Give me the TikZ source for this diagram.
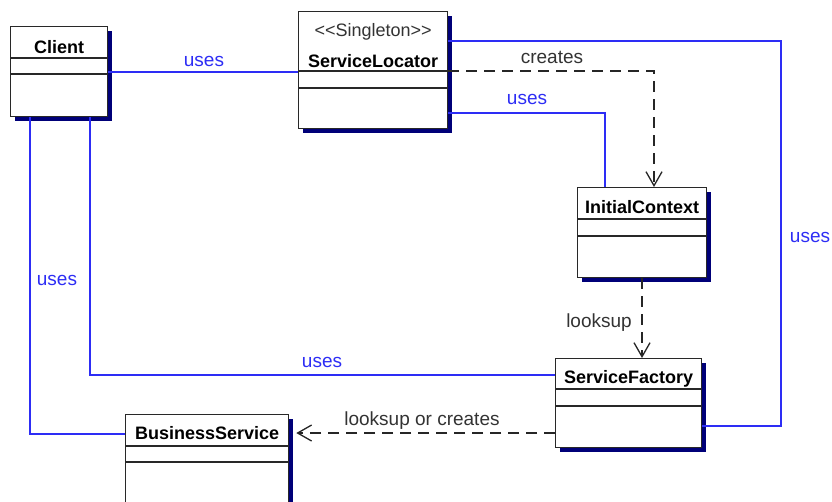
\documentclass[tikz,border=0pt]{standalone}
\usepackage{fontspec}
\setmainfont{Liberation Sans}
\usetikzlibrary{arrows.meta,shadows}
\definecolor{useblue}{RGB}{45,45,245}
\definecolor{shadownavy}{RGB}{0,0,120}
\definecolor{boxline}{RGB}{40,40,40}
\begin{document}
\begin{tikzpicture}[x=1pt,y=-1pt,
  cls/.style={draw=boxline, line width=1.3pt, fill=white, anchor=north west, inner sep=0pt,
    drop shadow={shadow xshift=4pt, shadow yshift=-4pt, fill=shadownavy, opacity=1}},
  divider/.style={draw=boxline, line width=1.3pt},
  cname/.style={font=\fontsize{18}{20}\selectfont\bfseries, anchor=base, inner sep=0pt},
  stereo/.style={font=\fontsize{18}{20}\selectfont, text=black!80, anchor=base, inner sep=0pt},
  uses/.style={draw=useblue, line width=1.3pt},
  usestext/.style={font=\fontsize{19}{22}\selectfont, text=useblue, anchor=base, inner sep=0pt},
  dep/.style={draw=black!85, line width=1.3pt, dash pattern=on 11pt off 7pt,
    -{Straight Barb[length=14pt,width=16pt,line width=1.3pt]}},
  deptext/.style={font=\fontsize{19}{22}\selectfont, text=black!80, anchor=base, inner sep=0pt}]
\useasboundingbox (0,0) rectangle (832,501);
\fill[white] (0,0) rectangle (832,501);

% class boxes
\node[cls, minimum width=97pt, minimum height=90pt] (client) at (10,26) {};
\node[cls, minimum width=149pt, minimum height=117pt] (sl) at (298,11) {};
\node[cls, minimum width=129pt, minimum height=90pt] (ic) at (577,187) {};
\node[cls, minimum width=146pt, minimum height=89pt] (sf) at (555,358) {};
\node[cls, minimum width=163pt, minimum height=110pt] (bs) at (125,414) {};

% dividers
\draw[divider] (client.west |- 0,58) -- (client.east |- 0,58);
\draw[divider] (client.west |- 0,74) -- (client.east |- 0,74);
\draw[divider] (sl.west |- 0,71) -- (sl.east |- 0,71);
\draw[divider] (sl.west |- 0,88) -- (sl.east |- 0,88);
\draw[divider] (ic.west |- 0,219) -- (ic.east |- 0,219);
\draw[divider] (ic.west |- 0,236) -- (ic.east |- 0,236);
\draw[divider] (sf.west |- 0,389) -- (sf.east |- 0,389);
\draw[divider] (sf.west |- 0,406) -- (sf.east |- 0,406);
\draw[divider] (bs.west |- 0,446) -- (bs.east |- 0,446);
\draw[divider] (bs.west |- 0,462) -- (bs.east |- 0,462);

% class names
\node[cname] (clientname) at (client.north |- 0,53) {Client};
\node[stereo] (slstereo) at (sl.north |- 0,36) {<\kern0pt<Singleton>\kern0pt>};
\node[cname] (slname) at (sl.north |- 0,67) {ServiceLocator};
\node[cname] (icname) at (ic.north |- 0,213) {InitialContext};
\node[cname] (sfname) at (sf.north |- 0,383) {ServiceFactory};
\node[cname] (bsname) at (bs.north |- 0,439) {BusinessService};

% connectors
\coordinate (rightc) at (781,200);
\draw[uses] (client.east |- 0,72) -- (sl.west |- 0,72);
\draw[uses] (sl.east |- 0,41) -| (rightc) |- (sf.east |- 0,426);
\draw[uses] (sl.east |- 0,113) -| (ic.north -| 605,0);
\draw[dep] (sl.east |- 0,71) -| (ic.north -| 654,0);
\draw[dep] (ic.south -| 642,0) -- (sf.north -| 642,0);
\draw[dep, shorten >=7pt] (sf.west |- 0,433) -- (bs.east |- 0,433);
\draw[uses] (client.south -| 30,0) |- (bs.west |- 0,434);
\draw[uses] (client.south -| 90,0) |- (sf.west |- 0,375);

% labels
\node[usestext] (l1) at (204,66) {uses};
\node[deptext] (l2) at (552,63) {creates};
\node[usestext] (l3) at (527,104) {uses};
\node[usestext] (l4) at (810,242) {uses};
\node[usestext] (l5) at (57,285) {uses};
\node[usestext] (l6) at (322,367) {uses};
\node[deptext] (l7) at (599,327) {looksup};
\node[deptext] (l8) at (422,425) {looksup or creates};
\end{tikzpicture}
\end{document}
